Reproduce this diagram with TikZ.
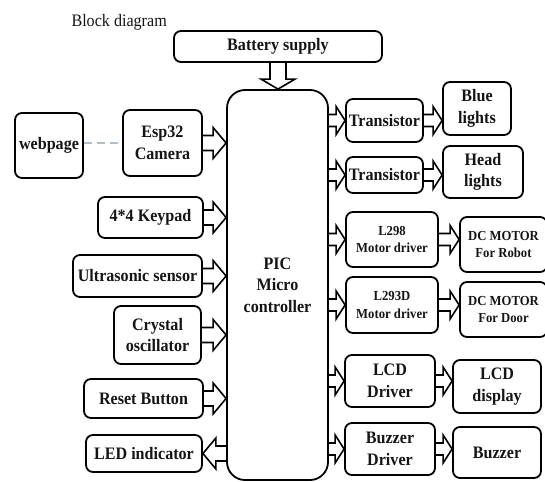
\documentclass[tikz,border=0pt]{standalone}
\usepackage{fontspec}
\setmainfont{Liberation Serif}
\newfontfamily\labfont{Liberation Serif}[FakeStretch=0.92]
\usetikzlibrary{calc}
\definecolor{txt}{HTML}{151515}
\definecolor{dashc}{HTML}{A9C2CE}
\tikzset{
  blk/.style={draw, line width=1.8pt, rounded corners=7pt, align=center, inner sep=0pt,
    text=txt, font=\labfont\bfseries\fontsize{17.5}{21.5}\selectfont},
  sml/.style={blk, font=\labfont\bfseries\fontsize{13.8}{17.5}\selectfont},
  fat/.style={draw, line width=1.6pt, line join=miter},
}
% #1 shaft half width, #2 head half width, #3 head length, #4 from, #5 to
\newcommand\fatarr[5]{%
  \coordinate (fa-s) at (#4);
  \coordinate (fa-t) at (#5);
  \coordinate (fa-h) at ($(fa-t)!#3!(fa-s)$);
  \draw[fat] ($(fa-s)!#1!90:(fa-t)$) -- ($(fa-h)!#1!90:(fa-t)$) -- ($(fa-h)!#2!90:(fa-t)$)
    -- (fa-t) -- ($(fa-h)!#2!-90:(fa-t)$) -- ($(fa-h)!#1!-90:(fa-t)$) -- ($(fa-s)!#1!-90:(fa-t)$);
}
\newcommand\bigarr[2]{\fatarr{7.5pt}{15.5pt}{13pt}{#1}{#2}}
\newcommand\smarr[2]{\fatarr{6pt}{14pt}{9pt}{#1}{#2}}
\begin{document}
\begin{tikzpicture}[x=1pt,y=-1pt]
\useasboundingbox (0,0) rectangle (545,481);

\node[anchor=base west, text=txt, font=\labfont\fontsize{17.5}{17.5}\selectfont] (title) at (68,27) {Block diagram};

\node[blk, minimum width=208, minimum height=31] (batt) at (278,46.5) {Battery supply};
\node[blk, rounded corners=18pt, minimum width=101, minimum height=390] (pic) at (277.5,285) {PIC\\Micro\\controller};

% left column
\node[blk, minimum width=68, minimum height=65] (web) at (49,145.5) {webpage};
\node[blk, minimum width=79, minimum height=66] (esp) at (162.5,143) {Esp32\\Camera};
\node[blk, minimum width=105, minimum height=41] (key) at (150.5,217.5) {4*4 Keypad};
\node[blk, minimum width=129, minimum height=42] (ultra) at (137.5,276) {Ultrasonic sensor};
\node[blk, minimum width=87, minimum height=58] (crys) at (157.5,335) {Crystal\\oscillator};
\node[blk, minimum width=119, minimum height=39] (reset) at (143.5,398.5) {Reset Button};
\node[blk, minimum width=116, minimum height=37] (led) at (144,453.5) {LED indicator};

% right columns
\node[blk, minimum width=77, minimum height=43] (tr1) at (384.5,120.5) {Transistor};
\node[blk, minimum width=68, minimum height=53] (blue) at (477,108.5) {Blue\\lights};
\node[blk, minimum width=77, minimum height=36] (tr2) at (384.5,175) {Transistor};
\node[blk, minimum width=80, minimum height=52] (head) at (483,172) {Head\\lights};
\node[sml, minimum width=92, minimum height=55] (l298) at (392,239.5) {L298\\Motor driver};
\node[sml, minimum width=87, minimum height=55] (dcr) at (503.5,244.5) {DC MOTOR\\For Robot};
\node[sml, minimum width=92, minimum height=56] (l293) at (392,305) {L293D\\Motor driver};
\node[sml, minimum width=87, minimum height=55] (dcd) at (503.5,309.5) {DC MOTOR\\For Door};
\node[blk, minimum width=90, minimum height=52] (lcdd) at (390,381) {LCD\\Driver};
\node[blk, minimum width=88, minimum height=53] (lcd) at (497,386.5) {LCD\\display};
\node[blk, minimum width=90, minimum height=52] (bzd) at (390,449) {Buzzer\\Driver};
\node[blk, minimum width=88, minimum height=51] (bz) at (497,452.5) {Buzzer};

% connectors
\draw[dashc, line width=1.2pt, dash pattern=on 8pt off 5pt] (web.east |- esp.east) -- (esp.west);
\fatarr{8pt}{17pt}{10pt}{batt.south}{batt.south |- pic.north}
\bigarr{esp.east}{pic.west |- esp.east}
\bigarr{key.east}{pic.west |- key.east}
\bigarr{ultra.east}{pic.west |- ultra.east}
\bigarr{crys.east}{pic.west |- crys.east}
\bigarr{reset.east}{pic.west |- reset.east}
\bigarr{pic.west |- led.east}{led.east}

\smarr{pic.east |- tr1.west}{tr1.west}
\smarr{pic.east |- tr2.west}{tr2.west}
\smarr{pic.east |- l298.west}{l298.west}
\smarr{pic.east |- l293.west}{l293.west}
\smarr{pic.east |- lcdd.west}{lcdd.west}
\smarr{pic.east |- bzd.west}{bzd.west}

\smarr{tr1.east}{blue.west |- tr1.east}
\smarr{tr2.east}{head.west |- tr2.east}
\smarr{l298.east}{dcr.west |- l298.east}
\smarr{l293.east}{dcd.west |- l293.east}
\smarr{lcdd.east}{lcd.west |- lcdd.east}
\smarr{bzd.east}{bz.west |- bzd.east}
\end{tikzpicture}
\end{document}
